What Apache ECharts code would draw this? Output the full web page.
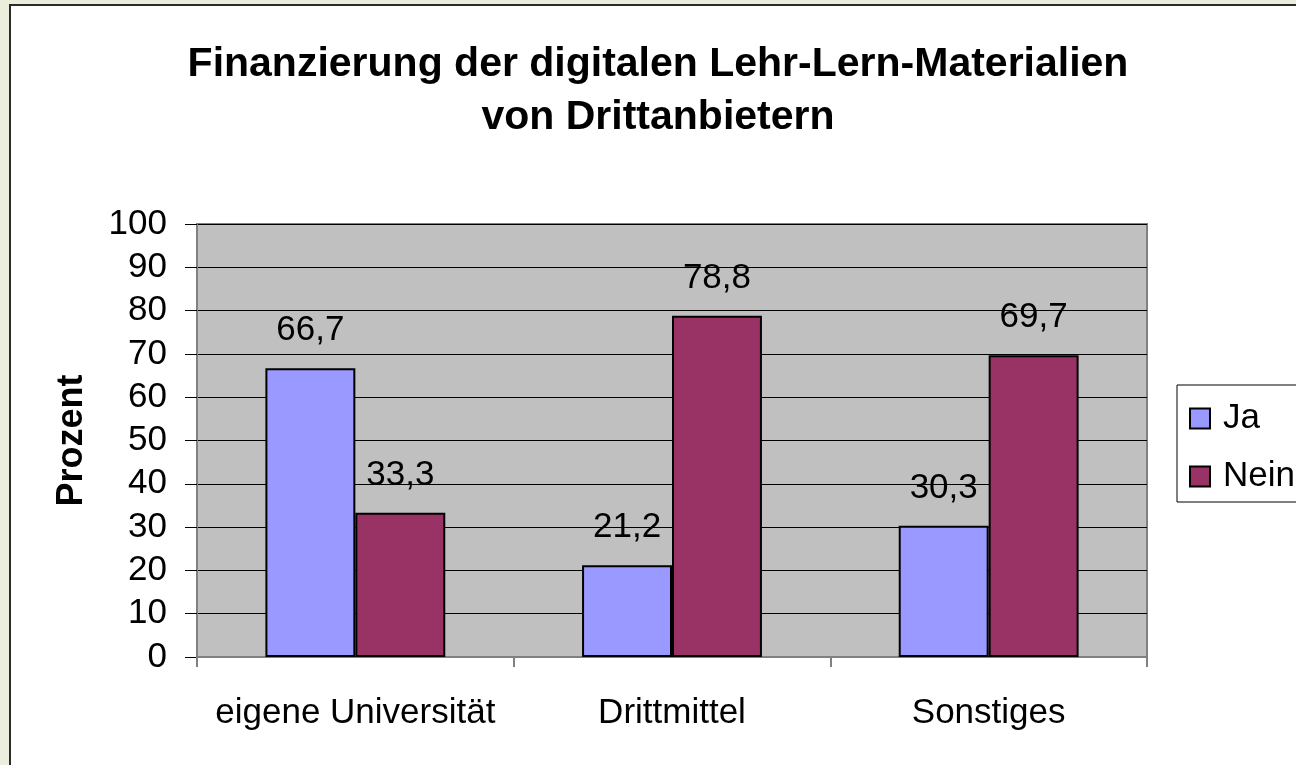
<!DOCTYPE html>
<html><head><meta charset="utf-8">
<script src="https://cdn.jsdelivr.net/npm/echarts@6/dist/echarts.min.js"></script>
<style>
html,body{margin:0;padding:0;width:1296px;height:765px;overflow:hidden;background:#ECEEDD;}
#frame{position:absolute;left:9px;top:4px;width:1300px;height:780px;border:2px solid #2b2b2b;background:#fff;}
#chart{position:absolute;left:0;top:0;width:1296px;height:765px;}
</style></head>
<body>
<div id="frame"></div>
<div id="chart"></div>
<script>
const categories = ['eigene Universität', 'Drittmittel', 'Sonstiges'];
const seriesNames = ['Ja', 'Nein'];
const jaValues = [66.7, 21.2, 30.3];
const neinValues = [33.3, 78.8, 69.7];
const yTicks = [0, 10, 20, 30, 40, 50, 60, 70, 80, 90, 100];

const FONT = "'Liberation Sans', Arial, sans-serif";
const chart = echarts.init(document.getElementById('chart'), null, {renderer: 'canvas'});
const fmt = p => p.value.toFixed(1).replace('.', ',');
const labelCfg = {show: true, position: 'top', distance: 20, formatter: fmt, color: '#000', fontSize: 35, fontFamily: FONT};

chart.setOption({
  backgroundColor: 'transparent',
  animation: false,
  title: {
    text: 'Finanzierung der digitalen Lehr-Lern-Materialien\nvon Drittanbietern',
    left: 653, top: 33, textAlign: 'center',
    textStyle: {fontFamily: FONT, fontWeight: 'bold', fontSize: 41, lineHeight: 53, color: '#000'}
  },
  legend: {
    orient: 'vertical', left: 1177, top: 385,
    data: seriesNames,
    backgroundColor: '#fff', borderColor: '#000', borderWidth: 1,
    padding: [16, 60, 8, 12],
    itemWidth: 20, itemHeight: 20, itemGap: 23,
    icon: 'rect',
    textStyle: {fontFamily: FONT, fontSize: 35, lineHeight: 35, color: '#000', padding: [0, 0, 0, 8]},
    itemStyle: {borderColor: '#000', borderWidth: 2}
  },
  grid: {
    left: 197, top: 224, right: 149, bottom: 108,
    show: true, backgroundColor: '#C0C0C0', borderColor: '#808080', borderWidth: 2
  },
  xAxis: {
    type: 'category', data: categories,
    axisLine: {show: true, lineStyle: {color: '#808080', width: 2}},
    axisTick: {show: true, interval: 0, length: 10, lineStyle: {color: '#808080', width: 2}},
    axisLabel: {interval: 0, hideOverlap: false, fontFamily: FONT, fontSize: 35, color: '#000', margin: 39}
  },
  yAxis: {
    type: 'value', min: yTicks[0], max: yTicks[yTicks.length - 1], interval: 10,
    name: 'Prozent', nameLocation: 'middle', nameGap: 107, nameRotate: 90, nameMoveOverlap: false,
    nameTextStyle: {fontFamily: FONT, fontSize: 36, fontWeight: 'bold', color: '#000'},
    axisLine: {show: true, lineStyle: {color: '#808080', width: 2}},
    axisTick: {show: true, length: 12, lineStyle: {color: '#000', width: 1}},
    axisLabel: {fontFamily: FONT, fontSize: 35, color: '#000', margin: 30},
    splitLine: {show: true, lineStyle: {color: '#000', width: 1}}
  },
  series: [
    {name: seriesNames[0], type: 'bar', data: jaValues, barWidth: '28.4%', barGap: '0%',
     itemStyle: {color: '#9999FF', borderColor: '#000', borderWidth: 2}, label: labelCfg},
    {name: seriesNames[1], type: 'bar', data: neinValues, barWidth: '28.4%', barGap: '0%',
     itemStyle: {color: '#993366', borderColor: '#000', borderWidth: 2}, label: labelCfg}
  ]
});
</script>
</body></html>
